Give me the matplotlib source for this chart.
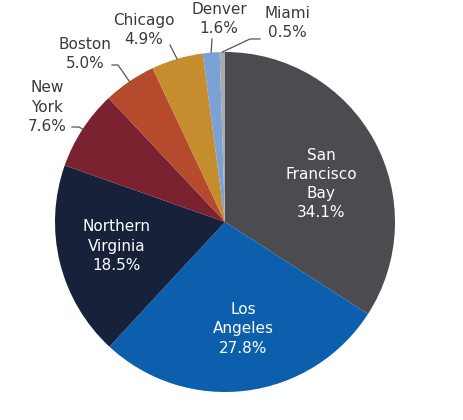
import numpy as np
import matplotlib.pyplot as plt

# parts de marché par région (%)
regions = ["San\nFrancisco\nBay", "Los\nAngeles", "Northern\nVirginia", "New\nYork",
           "Boston", "Chicago", "Denver", "Miami"]
shares = [34.1, 27.8, 18.5, 7.6, 5.0, 4.9, 1.6, 0.5]
colors = ["#4c4b4f", "#0b5fad", "#17213a", "#7b2231",
          "#b54a2c", "#c68d2f", "#7aa3d3", "#a9a9b0"]

W, H = 463, 420
CX, CY, R = 225, 222, 170  # centre et rayon du disque en pixels


def px(x, y):
    # pixels de l'image -> coordonnées du camembert (rayon 1)
    return (x - CX) / R, (CY - y) / R


fig = plt.figure(figsize=(W / 100, H / 100), dpi=100)
ax = fig.add_axes([(CX - R) / W, (H - CY - R) / H, 2 * R / W, 2 * R / H])
wedges, _ = ax.pie(shares, colors=colors, startangle=90, counterclock=False,
                   radius=1, wedgeprops=dict(linewidth=0))
ax.set_xlim(-1, 1)
ax.set_ylim(-1, 1)
ax.set_aspect("equal")
ax.axis("off")

fs = 11
ls = 1.36
# étiquettes intérieures
inside = {0: (321, 184), 1: (243, 329), 2: (117, 246)}
for i, (x, y) in inside.items():
    ax.text(*px(x, y), f"{regions[i]}\n{shares[i]:.1f}%", color="white",
            ha="center", va="center", fontsize=fs, linespacing=ls)

# étiquettes extérieures avec traits de rappel
outside = {3: ((47, 107), [(72, 127), (79, 127)]),
           4: ((85, 54), [(112, 65), (118, 65)]),
           5: ((144, 30), [(170, 45)]),
           6: ((219, 19), [(212, 39)]),
           7: ((287, 23), [(260, 39), (250, 39)])}
for i, ((x, y), path) in outside.items():
    ax.text(*px(x, y), f"{regions[i]}\n{shares[i]:.1f}%", color="#3a3a3a",
            ha="center", va="center", fontsize=fs, linespacing=ls)
    w = wedges[i]
    mid = np.deg2rad((w.theta1 + w.theta2) / 2)
    pts = [px(a, b) for a, b in path] + [(np.cos(mid), np.sin(mid))]
    ax.plot([p[0] for p in pts], [p[1] for p in pts], color="#555555",
            lw=0.9, clip_on=False)

fig.savefig("out.png", dpi=100)
